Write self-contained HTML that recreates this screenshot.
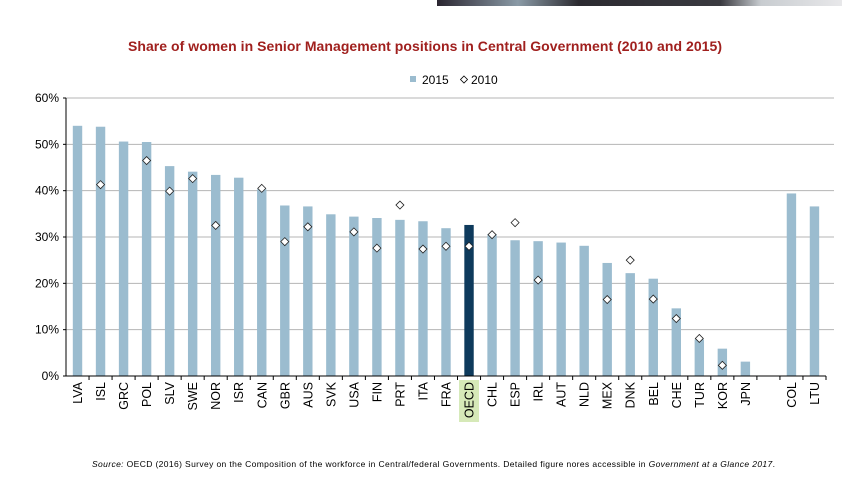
<!DOCTYPE html>
<html><head><meta charset="utf-8"><style>
body{margin:0;width:842px;height:496px;background:#fff;overflow:hidden;font-family:"Liberation Sans",sans-serif;}
</style></head><body>
<svg width="842" height="496" xmlns="http://www.w3.org/2000/svg" id="chart">
<defs><linearGradient id="bn" x1="0" x2="1"><stop offset="0" stop-color="#2a2530"/><stop offset="0.2" stop-color="#8a9aa6"/><stop offset="0.35" stop-color="#2b2a30"/><stop offset="0.7" stop-color="#3a3a40"/><stop offset="0.8" stop-color="#c8ccd0"/><stop offset="1" stop-color="#e8e8ea"/></linearGradient></defs>
<rect x="437" y="0" width="405" height="6" fill="url(#bn)"/>
<text x="425" y="51" text-anchor="middle" font-size="14" font-weight="bold" fill="#a0201e" textLength="594">Share of women in Senior Management positions in Central Government (2010 and 2015)</text>
<g>
<rect x="410" y="76" width="6" height="6" fill="#9bbccf"/>
<text x="422" y="84" font-size="12" fill="#000">2015</text>
<path d="M464 76 l3.5 3.5 l-3.5 3.5 l-3.5 -3.5z" fill="#fff" stroke="#000" stroke-width="0.8"/>
<text x="471" y="84" font-size="12" fill="#000">2010</text>
</g>
<g id="grid"></g><g id="bars"></g><g id="marks"></g><g id="axes"></g>
<text x="92" y="467" font-size="8.5" fill="#000" textLength="683" lengthAdjust="spacing"><tspan font-style="italic">Source:</tspan> OECD (2016) Survey on the Composition of the workforce in Central/federal Governments. Detailed figure nores accessible in <tspan font-style="italic">Government at a Glance 2017</tspan>.</text>
</svg>
<script>
const categories=["LVA","ISL","GRC","POL","SLV","SWE","NOR","ISR","CAN","GBR","AUS","SVK","USA","FIN","PRT","ITA","FRA","OECD","CHL","ESP","IRL","AUT","NLD","MEX","DNK","BEL","CHE","TUR","KOR","JPN","","COL","LTU"];
const values2015=[54,53.8,50.6,50.5,45.3,44.1,43.4,42.8,40.3,36.8,36.6,34.9,34.4,34.1,33.7,33.4,31.9,32.6,30.6,29.3,29.1,28.8,28.1,24.4,22.2,21.0,14.6,7.9,5.9,3.1,null,39.4,36.6];
const values2010=[null,41.3,null,46.5,39.9,42.6,32.5,null,40.5,29.0,32.2,null,31.1,27.6,36.9,27.4,28.0,28.0,30.5,33.1,20.7,null,null,16.5,25.0,16.6,12.4,8.1,2.3,null,null,null,null];
const yTicks=[0,10,20,30,40,50,60];
const NS="http://www.w3.org/2000/svg";
const x0=66,slot=23.03,y0=376,yTop=98,yMax=60;
const y=v=>y0-(v/yMax)*(y0-yTop);
const xc=i=>x0+slot*(i+0.5);
function mk(t,a,p){const e=document.createElementNS(NS,t);for(const k in a)e.setAttribute(k,a[k]);p.appendChild(e);return e;}
const G=document.getElementById('grid'),B=document.getElementById('bars'),M=document.getElementById('marks'),A=document.getElementById('axes');
yTicks.forEach(t=>{
 if(t>0){const l=mk('line',{x1:x0,x2:834,y1:y(t),y2:y(t),stroke:'#b5b5b5','stroke-width':1},G);
 
 }
 const tx=mk('text',{x:x0-7,y:y(t)+4,'text-anchor':'end','font-size':12,fill:'#000'},A);tx.textContent=t+'%';
 
 
 mk('line',{x1:x0-3,x2:x0,y1:y(t),y2:y(t),stroke:'#000'},A);
});
const ya=mk('line',{x1:x0,x2:x0,y1:yTop,y2:y0,stroke:'#000'},A);


const xa=mk('line',{x1:x0,x2:x0+slot*categories.length,y1:y0,y2:y0,stroke:'#000'},A);


categories.forEach((c,i)=>{
 mk('line',{x1:x0+slot*(i+1),x2:x0+slot*(i+1),y1:y0,y2:y0+4,stroke:'#000'},A);
 if(values2015[i]!=null){const r=mk('rect',{x:xc(i)-4.7,y:y(values2015[i]),width:9.4,height:y0-y(values2015[i]),fill:c==='OECD'?'#0e3a5c':'#9bbccf'},B);
 
 }
 if(values2010[i]!=null){const cx=xc(i),cy=y(values2010[i]);
 const p=mk('path',{d:`M${cx} ${cy-4} l4 4 l-4 4 l-4 -4z`,fill:'#fff',stroke:'#222','stroke-width':0.8},M);
 
 }
 if(c){
 if(c==='OECD'){const bg=mk('rect',{x:xc(i)-10,y:380,width:20,height:42,fill:'#d6e9b8'},A);
 
 }
 const t=mk('text',{x:0,y:0,'text-anchor':'end','font-size':12.5,fill:'#000',transform:`translate(${xc(i)+4.5},382) rotate(-90)`},A);t.textContent=c;
 
 }
});
</script>
</body></html>
